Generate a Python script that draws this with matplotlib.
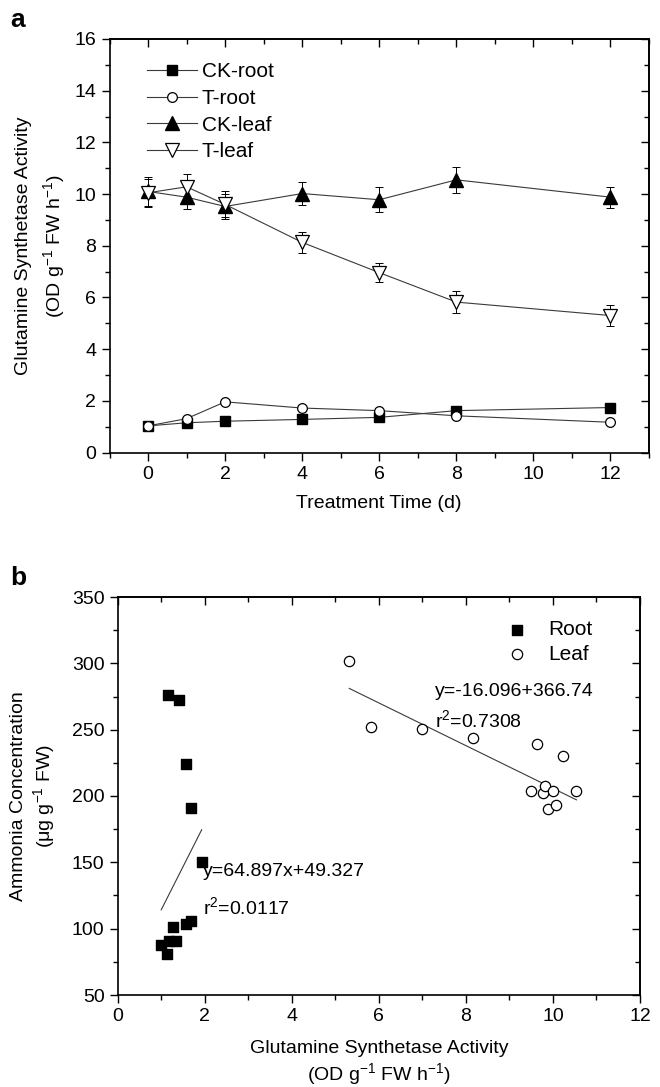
import numpy as np
import matplotlib
matplotlib.use('Agg')
import matplotlib.pyplot as plt
from matplotlib.ticker import MultipleLocator

plt.rcParams['font.family'] = ['Liberation Sans', 'DejaVu Sans']
plt.rcParams['mathtext.fontset'] = 'custom'
plt.rcParams['mathtext.rm'] = 'Liberation Sans'
plt.rcParams['mathtext.it'] = 'Liberation Sans:italic'
plt.rcParams['mathtext.default'] = 'regular'

# panel a: GS activity over treatment time
days = [0, 1, 2, 4, 6, 8, 12]
ck_root = [1.03, 1.15, 1.21, 1.28, 1.36, 1.62, 1.74]
t_root = [1.03, 1.31, 1.96, 1.72, 1.62, 1.42, 1.17]
ck_leaf = [10.10, 9.88, 9.52, 10.02, 9.78, 10.55, 9.88]
ck_leaf_err = [0.55, 0.47, 0.50, 0.45, 0.48, 0.50, 0.40]
t_leaf = [10.05, 10.28, 9.60, 8.13, 6.96, 5.82, 5.30]
t_leaf_err = [0.55, 0.50, 0.50, 0.42, 0.38, 0.44, 0.40]

# panel b: ammonia vs GS activity
root_gs = [1.15, 1.40, 1.57, 1.69, 1.93, 1.27, 1.57, 1.69, 0.99, 1.14, 1.19, 1.35]
root_nh = [276, 272, 224, 191, 150, 101.5, 103.5, 106, 87.5, 81, 90.5, 91]
leaf_gs = [5.32, 5.83, 6.99, 8.16, 9.63, 10.24, 9.50, 9.76, 9.82, 9.99, 10.54, 9.88, 10.08]
leaf_nh = [301.5, 252, 250.5, 244, 239, 230, 204, 202.5, 207.5, 204, 204, 190, 193]
root_fit_x = [1.0, 1.93]
root_fit_y = [114.2, 174.6]
leaf_fit_x = [5.32, 10.54]
leaf_fit_y = [281.1, 197.1]

W, H = 660, 1087
FS = 14
fig = plt.figure(figsize=(W / 100, H / 100), dpi=100)

def px_axes(left, top, right, bottom):
    return fig.add_axes([left / W, 1 - bottom / H, (right - left) / W, (bottom - top) / H])

def style(ax, xmaj, xmin, ymaj, ymin):
    ax.xaxis.set_major_locator(MultipleLocator(xmaj))
    ax.xaxis.set_minor_locator(MultipleLocator(xmin))
    ax.yaxis.set_major_locator(MultipleLocator(ymaj))
    ax.yaxis.set_minor_locator(MultipleLocator(ymin))
    ax.tick_params(which='both', direction='out', width=1.0, labelsize=FS)
    ax.tick_params(which='major', length=6)
    ax.tick_params(which='minor', length=3.5)
    for s in ax.spines.values():
        s.set_linewidth(1.2)
    # top and right ticks point inwards
    sx = ax.secondary_xaxis('top')
    sx.xaxis.set_major_locator(MultipleLocator(xmaj))
    sx.xaxis.set_minor_locator(MultipleLocator(xmin))
    sx.tick_params(which='both', direction='in', labeltop=False, width=1.0)
    sx.tick_params(which='major', length=6)
    sx.tick_params(which='minor', length=3.5)
    sy = ax.secondary_yaxis('right')
    sy.yaxis.set_major_locator(MultipleLocator(ymaj))
    sy.yaxis.set_minor_locator(MultipleLocator(ymin))
    sy.tick_params(which='both', direction='in', labelright=False, width=1.0)
    sy.tick_params(which='major', length=6)
    sy.tick_params(which='minor', length=3.5)
    for s in list(sx.spines.values()) + list(sy.spines.values()):
        s.set_linewidth(1.2)

# ---- panel a
ax1 = px_axes(109.5, 39, 649, 452.5)
lc = '#3a3a3a'
ax1.errorbar(days, ck_leaf, yerr=ck_leaf_err, fmt='none', ecolor='k', elinewidth=0.7,
             capsize=3, capthick=0.7, zorder=2)
ax1.errorbar(days, t_leaf, yerr=t_leaf_err, fmt='none', ecolor='k', elinewidth=0.7,
             capsize=3, capthick=0.7, zorder=2)
ax1.plot(days, ck_root, '-s', color=lc, lw=0.8, mfc='k', mec='k', ms=7, label='CK-root', zorder=3)
ax1.plot(days, t_root, '-o', color=lc, lw=0.8, mfc='white', mec='k', ms=7, mew=0.9, label='T-root', zorder=4)
ax1.plot(days, ck_leaf, '-^', color=lc, lw=0.8, mfc='k', mec='k', ms=9.5, label='CK-leaf', zorder=3)
ax1.plot(days, t_leaf, '-v', color=lc, lw=0.8, mfc='white', mec='k', ms=9.5, mew=0.9,
         label='T-leaf', zorder=4)
ax1.set_xlim(-1, 13)
ax1.set_ylim(0, 16)
style(ax1, 2, 1, 2, 1)
ax1.set_xlabel('Treatment Time (d)', fontsize=FS, labelpad=9)
ax1.set_ylabel('Glutamine Synthetase Activity\n(OD g$^{-1}$ FW h$^{-1}$)', fontsize=FS, linespacing=1.45)
ax1.yaxis.set_label_coords(-0.079, 0.5)
ax1.legend(loc='upper left', bbox_to_anchor=(0.0695, 0.944), frameon=False, fontsize=15,
           handlelength=2.4, handletextpad=0.24, labelspacing=0.37, borderpad=0, borderaxespad=0)
fig.text(10 / W, 1 - 20 / H, 'a', fontsize=19, fontweight='bold', va='center', ha='left')

# ---- panel b
ax2 = px_axes(117.7, 597, 640, 995)
ax2.scatter(root_gs, root_nh, marker='s', s=55, c='k', edgecolors='k', label='Root', zorder=3)
ax2.scatter(leaf_gs, leaf_nh, marker='o', s=55, facecolors='white', edgecolors='k', linewidths=0.9,
            label='Leaf', zorder=3)
ax2.plot(root_fit_x, root_fit_y, color=lc, lw=0.8)
ax2.plot(leaf_fit_x, leaf_fit_y, color=lc, lw=0.8)
ax2.set_xlim(0, 12)
ax2.set_ylim(50, 350)
style(ax2, 2, 1, 50, 25)
ax2.set_xlabel('Glutamine Synthetase Activity\n(OD g$^{-1}$ FW h$^{-1}$)', fontsize=FS, labelpad=11)
ax2.set_ylabel('Ammonia Concentration\n(\u03bcg g$^{-1}$ FW)', fontsize=FS)
ax2.yaxis.set_label_coords(-0.116, 0.5)
ax2.legend(loc='upper left', bbox_to_anchor=(0.7415, 0.942), frameon=False, fontsize=15,
           scatterpoints=1, handlelength=1.15, handletextpad=0.91, labelspacing=0.27,
           borderpad=0, borderaxespad=0)
ax2.text(7.29, 278.5, 'y=-16.096+366.74', fontsize=FS, va='center', ha='left')
ax2.text(7.29, 257.5, 'r$^2$=0.7308', fontsize=FS, va='center', ha='left')
ax2.text(1.97, 143, 'y=64.897x+49.327', fontsize=FS, va='center', ha='left')
ax2.text(1.97, 116.5, 'r$^2$=0.0117', fontsize=FS, va='center', ha='left')
fig.text(10 / W, 1 - 578 / H, 'b', fontsize=19, fontweight='bold', va='center', ha='left')

fig.savefig('out.png', dpi=100)
